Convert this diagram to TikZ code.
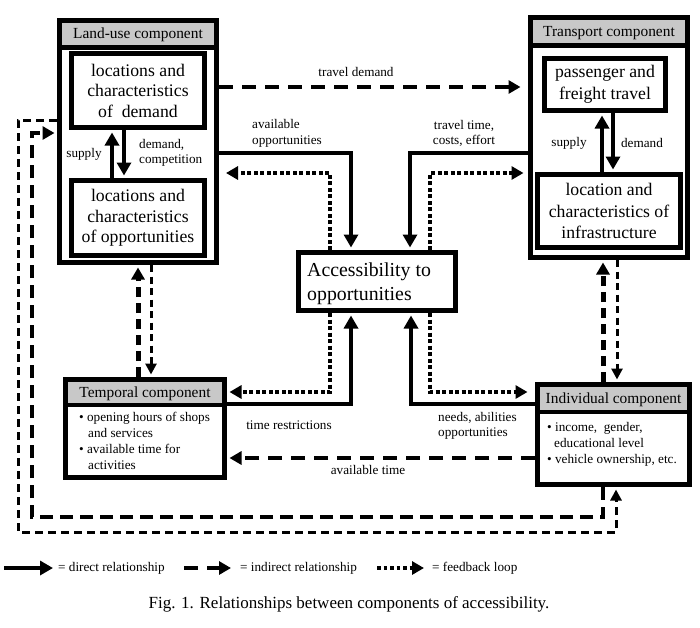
\documentclass[tikz,border=0pt]{standalone}
\usepackage{fontspec}
\setmainfont{Liberation Serif}
\usetikzlibrary{arrows.meta}
\definecolor{headgray}{RGB}{200,200,200}
\begin{document}
\begin{tikzpicture}[x=1pt,y=-1pt,
  outerbox/.style={draw, line width=5pt, inner sep=0pt},
  box/.style={draw, line width=5pt, inner sep=0pt, align=center, font=\fontsize{17.7}{20.5}\selectfont},
  hdr/.style={fill=headgray, inner sep=0pt, font=\fontsize{15.4}{18}\selectfont},
  lbl/.style={inner sep=0pt, font=\fontsize{13.2}{15.5}\selectfont},
  bodytxt/.style={inner sep=0pt, align=left, font=\fontsize{13.2}{16}\selectfont},
  direct/.style={line width=4pt, -{Triangle[length=13pt,width=14pt]}},
  dotfb/.style={line width=4.5pt, dash pattern=on 4pt off 2.5pt, -{Triangle[length=12pt,width=13pt]}},
  dashthick/.style={line width=4pt, dash pattern=on 14pt off 9pt, -{Triangle[length=12pt,width=13pt]}},
  dashthin/.style={line width=3pt, dash pattern=on 7pt off 4.5pt, -{Triangle[length=11pt,width=11pt]}},
]
\useasboundingbox (0,0) rectangle (700,627);
\fill[white] (0,0) rectangle (700,627);

% Land-use component
\node[outerbox, minimum width=157pt, minimum height=242pt] (lu) at (138,141.5) {};
\node[hdr, minimum width=152pt, minimum height=24.5pt] (luh) at (138,35.25) {Land-use component};
\draw[line width=5pt] (luh.south west) -- (luh.south east);
\node[box, minimum width=133pt, minimum height=74pt] (lud) at (138,90.5) {locations and\\characteristics\\of\ \ demand};
\node[box, minimum width=133pt, minimum height=75pt] (luo) at (138,218) {locations and\\characteristics\\of opportunities};
\draw[direct, shorten >=2.5pt] ([xshift=-26pt]luo.north) -- ([xshift=-26pt]lud.south);
\draw[direct, shorten >=2.5pt] ([xshift=-14pt]lud.south) -- ([xshift=-14pt]luo.north);
\node[lbl] (lsup1) at (84,154) {supply};
\node[lbl, align=left, anchor=west] (ldem1) at (139,153) {demand,\\competition};

% Transport component
\node[outerbox, minimum width=157pt, minimum height=240pt] (tr) at (609,137.5) {};
\node[hdr, minimum width=152pt, minimum height=25.5pt] (trh) at (609,32.75) {Transport component};
\draw[line width=5pt] (trh.south west) -- (trh.south east);
\node[box, minimum width=121pt, minimum height=52pt, font=\fontsize{17.7}{22}\selectfont] (trp) at (605,84.5) {passenger and\\freight travel};
\node[box, minimum width=143pt, minimum height=73pt, font=\fontsize{17.7}{21.5}\selectfont] (tri) at (609,211) {location and\\characteristics of\\infrastructure};
\draw[direct, shorten >=2.5pt] ([xshift=-7pt]tri.north) -- ([xshift=-3pt]trp.south);
\draw[direct, shorten >=2.5pt] ([xshift=8pt]trp.south) -- ([xshift=4pt]tri.north);
\node[lbl] (lsup2) at (569,143) {supply};
\node[lbl] (ldem2) at (642,143) {demand};

% Accessibility
\node[outerbox, minimum width=157pt, minimum height=58pt] (acc) at (377,281.5) {};
\node[inner sep=0pt, align=left, anchor=west, font=\fontsize{19.8}{24}\selectfont] (acct) at (307,284) {Accessibility to\\opportunities};

% Temporal component
\node[outerbox, minimum width=159pt, minimum height=98pt] (tem) at (145,428.5) {};
\node[hdr, minimum width=154pt, minimum height=23pt] (temh) at (145,393.5) {Temporal component};
\draw[line width=4pt] (temh.south west) -- (temh.south east);
\node[bodytxt, anchor=west] (temb) at (79,441) {• opening hours of shops\\\hspace*{9pt}and services\\• available time for\\\hspace*{9pt}activities};

% Individual component
\node[outerbox, minimum width=152pt, minimum height=100pt] (ind) at (613.5,434.5) {};
\node[hdr, minimum width=147pt, minimum height=25pt] (indh) at (613.5,399.5) {Individual component};
\draw[line width=4pt] (indh.south west) -- (indh.south east);
\node[bodytxt, anchor=west] (indb) at (547,444) {• income,\ \ gender,\\\hspace*{7pt}educational level\\• vehicle ownership, etc.};

% connectors around accessibility
\draw[direct, shorten >=2.5pt] ([yshift=-11.5pt]lu.east) -| ([xshift=-26pt]acc.north);
\draw[dotfb, shorten >=7pt] ([xshift=-47pt]acc.north) |- ([yshift=-31.5pt]lu.east);
\draw[direct, shorten >=2.5pt] ([yshift=-15.5pt]tr.west) -| ([xshift=33pt]acc.north);
\draw[dotfb, shorten >=4.5pt] ([xshift=53pt]acc.north) |- ([yshift=-35.5pt]tr.west);
\draw[direct, shorten >=2.5pt] ([yshift=24.5pt]tem.east) -| ([xshift=-26pt]acc.south);
\draw[dotfb, shorten >=2.5pt] ([xshift=-47pt]acc.south) |- ([yshift=36.5pt]tem.east);
\draw[direct, shorten >=2.5pt] ([yshift=30.5pt]ind.west) -| ([xshift=34pt]acc.south);
\draw[dotfb, shorten >=7.5pt] ([xshift=53pt]acc.south) |- ([yshift=42.5pt]ind.west);

% indirect connectors
\draw[dashthick, shorten >=7.5pt] ([yshift=54.5pt]lu.east) -- ([yshift=50.5pt]tr.west);
\draw[dashthick, shorten >=2.5pt] ([yshift=-23.5pt]ind.west) -- ([yshift=-29.5pt]tem.east);
\draw[dashthick, line width=5pt, dash pattern=on 10pt off 6pt, shorten >=2.5pt] ([xshift=-7pt]tem.north) -- (lu.south);
\draw[dashthin, shorten >=2.5pt] ([xshift=13pt]lu.south) -- ([xshift=6pt]tem.north);
\draw[dashthick, line width=5pt, dash pattern=on 10pt off 6pt, shorten >=2.5pt] ([xshift=-10.5pt]ind.north) -- ([xshift=-6pt]tr.south);
\draw[dashthin, shorten >=2.5pt] ([xshift=8pt]tr.south) -- ([xshift=3.5pt]ind.north);
\draw[dashthick, dash pattern=on 13pt off 7pt, shorten >=2.5pt] ([xshift=-10.5pt]ind.south) |- (32,517) |- ([yshift=8.5pt]lu.west);
\draw[dashthin, dash pattern=on 8pt off 5pt, shorten >=2.5pt] ([yshift=21.5pt]lu.west) -| (18,532) -| ([xshift=2.5pt]ind.south);

% labels
\node[lbl] (ltd) at (356,72) {travel demand};
\node[lbl, align=left, anchor=west] (lao) at (252,133.5) {available\\opportunities};
\node[lbl, align=center] (ltt) at (464,133.5) {travel time,\\costs, effort};
\node[lbl] (ltr) at (289,425) {time restrictions};
\node[lbl, align=left, anchor=west] (lna) at (438,426) {needs, abilities\\opportunities};
\node[lbl] (lat) at (368,470) {available time};

% legend
\coordinate (lg1a) at (4,568);
\coordinate (lg1b) at (53,568);
\draw[direct, line width=4.5pt] (lg1a) -- (lg1b);
\node[lbl, anchor=west] (lg1t) at (58,568) {= direct relationship};
\coordinate (lg2a) at (184,568);
\coordinate (lg2b) at (231,568);
\draw[dashthick] (lg2a) -- (lg2b);
\node[lbl, anchor=west] (lg2t) at (240,568) {= indirect relationship};
\coordinate (lg3a) at (377,568);
\coordinate (lg3b) at (424,568);
\draw[dotfb, line width=3.5pt, dash pattern=on 3.5pt off 3pt] (lg3a) -- (lg3b);
\node[lbl, anchor=west] (lg3t) at (432,568) {= feedback loop};

% caption
\node[inner sep=0pt, font=\fontsize{17}{20}\selectfont] (cap) at (349,604) {Fig. 1. Relationships between components of accessibility.};
\end{tikzpicture}
\end{document}
